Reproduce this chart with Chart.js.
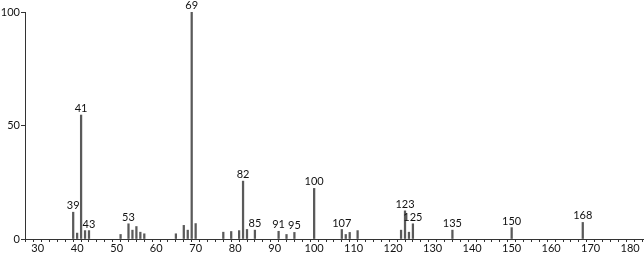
<!DOCTYPE html>
<html>
<head>
<meta charset="utf-8">
<script src="https://cdn.jsdelivr.net/npm/chart.js@4"></script>
<style>
  html, body { margin: 0; padding: 0; background: #fff; }
  #wrap { width: 644px; height: 256px; }
</style>
</head>
<body>
<div id="wrap"><canvas id="canvas" width="644" height="256"></canvas></div>
<script>
// m/z values and relative intensities
const masses = [39, 40, 41, 42, 43, 51, 53, 54, 55, 56, 57, 65, 67, 68, 69, 70,
  77, 79, 81, 82, 83, 85, 91, 93, 95, 100, 107, 108, 109, 111,
  122, 123, 124, 125, 135, 150, 168];
const intensities = [11.8, 2.6, 54.6, 3.7, 3.7, 2, 6.7, 3.9, 5.5, 3, 2.3, 2.3, 6, 3.9, 100, 6.8,
  3, 3.3, 3.7, 25.5, 4.2, 3.9, 3.4, 2, 2.9, 22.3, 4.2, 2, 2.9, 3.7,
  3.9, 12.4, 3, 6.7, 3.9, 5, 7.3];
// peaks that carry a label
const labeledPeaks = [39, 41, 43, 53, 69, 82, 85, 91, 95, 100, 107, 123, 125, 135, 150, 168];
const yTicks = [0, 50, 100];

const FONT = "Lato, 'DejaVu Sans', sans-serif";

const peakLabels = {
  id: 'peakLabels',
  afterDatasetsDraw(chart) {
    const ctx = chart.ctx;
    const meta = chart.getDatasetMeta(0);
    ctx.save();
    ctx.fillStyle = '#111';
    ctx.font = '11px ' + FONT;
    ctx.textAlign = 'center';
    ctx.textBaseline = 'bottom';
    labeledPeaks.forEach(m => {
      const i = masses.indexOf(m);
      const el = meta.data[i];
      ctx.fillText(String(m), el.x, el.y - 1);
    });
    ctx.restore();
  }
};

new Chart(document.getElementById('canvas').getContext('2d'), {
  type: 'bar',
  data: {
    datasets: [{
      data: masses.map((m, i) => ({ x: m, y: intensities[i] })),
      backgroundColor: '#5a5a5a',
      borderWidth: 0,
      barThickness: 1.6
    }]
  },
  plugins: [peakLabels],
  options: {
    responsive: false,
    animation: false,
    events: [],
    layout: { padding: { top: 12, right: 0, left: 0, bottom: 0 } },
    plugins: { legend: { display: false }, tooltip: { enabled: false } },
    scales: {
      x: {
        type: 'linear',
        min: 26.8,
        max: 183.5,
        offset: false,
        afterFit: s => { s.height = 17; },
        afterBuildTicks: s => {
          const t = [];
          for (let v = 28; v <= 182; v += 2) t.push({ value: v });
          s.ticks = t;
        },
        ticks: {
          autoSkip: false,
          maxRotation: 0,
          padding: 0,
          color: '#111',
          font: { family: FONT, size: 11 },
          callback: v => (v % 10 === 0 ? String(v) : '')
        },
        grid: { drawOnChartArea: false, tickLength: 3, color: '#333' },
        border: { color: '#333', width: 1 }
      },
      y: {
        min: 0,
        max: 100,
        afterFit: s => { s.width = 25; },
        afterBuildTicks: s => { s.ticks = yTicks.map(v => ({ value: v })); },
        ticks: {
          padding: 1,
          color: '#111',
          font: { family: FONT, size: 11 }
        },
        grid: { drawOnChartArea: false, tickLength: 4, color: '#333' },
        border: { color: '#333', width: 1 }
      }
    }
  }
});
</script>
</body>
</html>
